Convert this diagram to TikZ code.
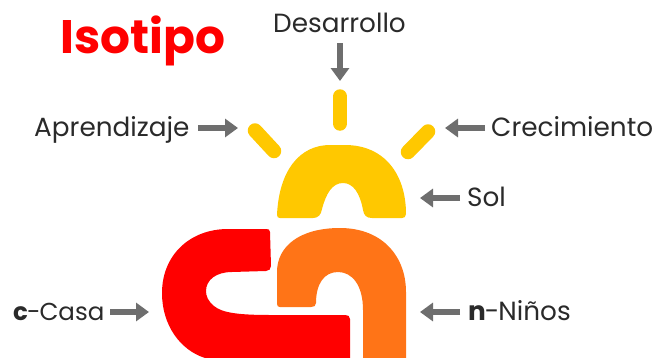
\documentclass[tikz,border=0pt]{standalone}
\usepackage{fontspec}
\setmainfont{Poppins}
\usetikzlibrary{arrows.meta}
\definecolor{sunc}{HTML}{FFC800}
\definecolor{redc}{HTML}{FF0000}
\definecolor{orac}{HTML}{FF7417}
\definecolor{arrc}{HTML}{6E6E6E}
\definecolor{txtc}{HTML}{2A2A2A}
\tikzset{
 lab/.style={text=txtc,font=\fontsize{26.3}{30}\selectfont,inner sep=0pt},
 ptr/.style={draw=arrc,line width=6pt,-{Triangle[length=13pt,width=18pt]}},
 ray/.style={draw=sunc,line width=14.5pt,line cap=round}
}
\begin{document}
\begin{tikzpicture}[x=1pt,y=-1pt]
\useasboundingbox (0,0) rectangle (654,357);
\begin{scope}
\clip (0,0) rectangle (654,357);
% red C
\fill[redc] (270,232) .. controls (270,229.5) and (268.5,229) .. (266,229)
 -- (228,229) .. controls (190,229) and (162,255) .. (162,293)
 .. controls (162,325) and (180,350) .. (205,358) -- (350,362) -- (350,319)
 .. controls (350,316) and (348,315) .. (345,315)
 -- (270,315) .. controls (240,315) and (222,313) .. (214,306)
 .. controls (208,301) and (206,296) .. (206,291)
 .. controls (206,280) and (216,272) .. (232,272)
 -- (266,271) .. controls (269,271) and (271,269) .. (271,266) -- cycle;
% orange n
\fill[orac] (277,304) -- (277,272) .. controls (277,246) and (300,228) .. (340,228)
 .. controls (382,228) and (406,256) .. (406,292)
 -- (406,362) -- (363,362) -- (363,310)
 .. controls (363,285) and (352,272) .. (338,272)
 .. controls (324,272) and (316,284) .. (316,303)
 .. controls (316,306) and (314,307) .. (311,307)
 -- (280,307) .. controls (278,307) and (277,306) .. (277,304) -- cycle;
\end{scope}
% sun
\fill[sunc] (277,215) .. controls (279,170) and (300,145) .. (330,145)
 -- (345,145) .. controls (385,145) and (406,175) .. (406,214)
 .. controls (406,217) and (404,218) .. (402,218)
 -- (372,218) .. controls (366,218) and (364,215) .. (363,210)
 .. controls (360,193) and (353,183) .. (343,183)
 .. controls (332,183) and (326,194) .. (322,209)
 .. controls (321,215) and (318,218) .. (313,218)
 -- (280,218) .. controls (278,218) and (277,217) .. (277,215) -- cycle;
\draw[ray] (340,96.5) -- (340,123.5);
\draw[ray] (255,130.5) -- (274,151);
\draw[ray] (428,131.5) -- (408,152);
% title
\node[anchor=base west,inner sep=0pt,text=redc,font=\fontsize{47}{50}\selectfont\bfseries] (title) at (60,53) {Isotipo};
% labels
\node[lab,anchor=base] (des) at (339.5,32) {Desarrollo};
\node[lab,anchor=base west] (apr) at (34,136) {Aprendizaje};
\node[lab,anchor=base west] (cre) at (491,136) {Crecimiento};
\node[lab,anchor=base west] (sol) at (467,206) {Sol};
\node[lab,anchor=base west,font=\fontsize{24.5}{30}\selectfont] (cas) at (13,320.5) {\textbf{c}\kern-1pt-\kern-1pt Casa};
\node[lab,anchor=base west] (nin) at (468,320.5) {\textbf{n}\kern-1pt-\kern-1pt Niños};
% arrow ends
\coordinate (ed) at (340,81);
\coordinate (ea) at (238,128);
\coordinate (ec) at (445,128);
\coordinate (es) at (420,198);
\coordinate (ek) at (149,312);
\coordinate (en) at (420,312);
\coordinate (sa) at (198,128);
\coordinate (sc) at (485,128);
\coordinate (ss) at (460,198);
\coordinate (sk) at (110,312);
\coordinate (sn) at (460,312);
\coordinate (sd) at (340,43);
\draw[ptr] (sd) -- (ed);
\draw[ptr] (sa) -- (ea);
\draw[ptr] (sc) -- (ec);
\draw[ptr] (ss) -- (es);
\draw[ptr] (sk) -- (ek);
\draw[ptr] (sn) -- (en);
\end{tikzpicture}
\end{document}
